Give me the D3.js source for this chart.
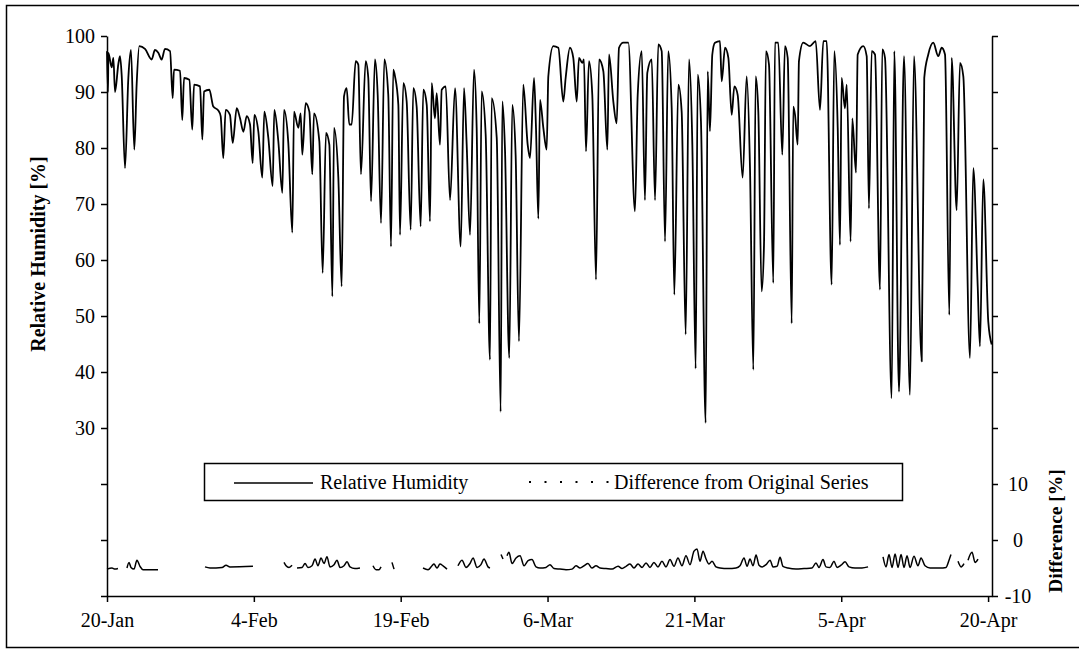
<!DOCTYPE html>
<html>
<head>
<meta charset="utf-8">
<script src="https://cdn.jsdelivr.net/npm/d3@7"></script>
<style>
  body { margin: 0; background: #fff; }
  svg { display: block; }
  text { font-family: "Liberation Serif", "Times New Roman", serif; fill: #000; }
</style>
</head>
<body>
<svg id="chart" width="1079" height="655"></svg>
<script>
// Time axis: days elapsed since 20-Jan
const xTickDays = [0, 15, 30, 45, 60, 75, 90];
const xTickLabels = ["20-Jan", "4-Feb", "19-Feb", "6-Mar", "21-Mar", "5-Apr", "20-Apr"];

// Left axis (relative humidity) and right axis (difference)
const rhTicks = [0, 10, 20, 30, 40, 50, 60, 70, 80, 90, 100];
const rhTickLabels = [30, 40, 50, 60, 70, 80, 90, 100];
const diffTicks = [-10, 0, 10, 20, 30, 40, 50, 60, 70, 80, 90];
const diffTickLabels = [-10, 0, 10];

// Relative humidity series: day offset and value [%]
const rhDay = [
  0.00, 0.10, 0.14, 0.48, 0.65, 0.82, 1.16, 1.33, 1.50, 1.84, 2.18, 2.45, 2.79, 3.03, 3.30, 3.88,
  4.56, 4.90, 5.24, 5.58, 5.92, 6.44, 6.71, 6.84, 7.46, 7.69, 7.87, 8.41, 8.71, 8.89, 9.50, 9.74,
  9.91, 10.45, 10.86, 11.37, 11.61, 11.88, 12.12, 12.56, 12.84, 13.25, 13.59, 13.93, 14.27, 14.61,
  14.88, 15.05, 15.46, 15.86, 16.07, 16.48, 16.92, 17.09, 17.50, 17.91, 18.08, 18.52, 18.93, 19.10,
  19.54, 19.78, 19.95, 20.29, 20.67, 20.97, 21.14, 21.69, 22.03, 22.37, 22.71, 23.02, 23.19, 23.63,
  23.97, 24.21, 24.48, 24.75, 24.99, 25.40, 25.67, 25.94, 26.42, 26.69, 26.97, 27.37, 27.65, 27.99,
  28.33, 28.73, 29.01, 29.24, 29.42, 29.76, 29.93, 30.27, 30.61, 31.02, 31.29, 31.63, 32.04, 32.31,
  32.66, 32.99, 33.17, 33.50, 33.68, 34.01, 34.19, 34.60, 35.04, 35.55, 36.13, 36.47, 36.74, 37.08,
  37.49, 37.76, 38.03, 38.27, 38.68, 39.12, 39.29, 39.81, 40.21, 40.38, 40.65, 41.09, 41.40, 41.74,
  42.08, 42.52, 42.97, 43.21, 43.62, 43.82, 44.06, 44.23, 44.57, 44.91, 45.08, 45.59, 46.10, 46.61,
  46.85, 47.29, 47.63, 47.98, 48.21, 48.55, 48.72, 48.93, 49.23, 49.57, 49.95, 50.26, 50.70, 51.11,
  51.28, 51.72, 52.06, 52.30, 52.74, 53.25, 53.93, 54.21, 54.62, 54.95, 55.19, 55.64, 55.98, 56.31,
  56.66, 57.00, 57.33, 57.68, 57.95, 58.36, 58.70, 59.11, 59.45, 59.79, 60.13, 60.34, 60.67, 61.15,
  61.36, 61.59, 61.83, 62.10, 62.61, 62.79, 63.13, 63.47, 63.81, 64.08, 64.42, 64.93, 65.34, 65.68,
  66.02, 66.26, 66.53, 66.87, 67.11, 67.31, 67.62, 68.06, 68.23, 68.57, 68.98, 69.25, 69.53, 69.94,
  70.10, 70.28, 70.55, 70.68, 71.12, 71.81, 72.39, 72.83, 73.17, 73.51, 74.02, 74.29, 74.64, 74.87,
  75.04, 75.38, 75.56, 75.96, 76.13, 76.51, 76.68, 77.25, 77.60, 77.83, 78.11, 78.45, 78.96, 79.19,
  79.47, 80.15, 80.42, 80.90, 81.41, 82.02, 82.43, 83.22, 83.48, 83.89, 84.40, 84.91, 85.26, 85.60,
  86.04, 86.28, 86.79, 87.13, 87.47, 88.15, 88.49, 88.94, 89.17, 89.51, 90.02, 90.37
];
const rhValue = [
  97.3, 90.0, 97.0, 94.4, 96.1, 90.0, 95.0, 96.4, 93.0, 76.4, 92.5, 97.5, 79.7, 91.4, 98.2, 97.7,
  95.8, 97.5, 97.0, 95.8, 97.7, 97.3, 88.9, 94.0, 93.8, 85.0, 92.5, 92.2, 83.3, 91.3, 91.0, 81.5,
  90.1, 90.4, 87.4, 86.7, 85.7, 78.2, 86.8, 85.9, 80.9, 87.1, 85.3, 82.9, 85.7, 84.2,
  77.3, 85.9, 82.9, 74.7, 86.5, 81.8, 73.2, 86.8, 81.2, 72.0, 86.8, 80.9, 64.9, 86.5,
  83.6, 86.2, 78.8, 88.0, 86.5, 75.3, 86.2, 81.2, 57.7, 82.7, 80.6, 53.5, 83.6, 74.7,
  55.3, 89.2, 90.7, 84.2, 84.2, 95.5, 94.9, 75.3, 95.5, 92.5, 70.5, 95.8, 89.5, 66.6,
  95.8, 89.5, 62.4, 94.0, 92.8, 87.7, 64.5, 91.6, 88.3, 65.4, 90.7, 87.4, 66.0, 90.4,
  87.7, 66.9, 91.6, 85.3, 89.8, 80.6, 90.4, 91.0, 70.7, 90.7, 62.4, 90.7, 80.6, 64.5,
  94.0, 83.6, 48.7, 90.1, 82.4, 42.2, 88.9, 81.8, 32.9, 88.3, 79.9, 42.5, 87.7, 78.8,
  45.5, 91.3, 80.6, 78.2, 92.5, 83.6, 67.4, 88.6, 83.6, 79.7, 92.8, 98.2, 97.9, 88.3,
  92.5, 97.9, 96.1, 88.3, 96.1, 95.2, 95.8, 79.4, 95.5, 89.5, 56.5, 95.8, 93.7, 79.7,
  96.7, 88.3, 84.4, 97.9, 98.8, 98.8, 68.7, 89.5, 97.3, 70.7, 93.4, 95.8, 70.7, 98.5,
  97.3, 63.3, 97.3, 87.2, 53.8, 91.3, 86.5, 46.7, 95.8, 80.6, 40.6, 93.1, 84.8, 30.9,
  93.7, 83.0, 96.7, 98.8, 99.1, 91.9, 97.9, 96.1, 85.9, 91.0, 89.5, 74.7, 92.8, 76.4,
  40.4, 92.8, 86.5, 54.4, 62.7, 97.3, 94.9, 55.9, 98.8, 98.8, 78.8, 98.2, 96.1, 48.7,
  87.4, 85.9, 80.6, 95.5, 98.8, 98.2, 99.1, 86.8, 99.1, 99.1, 55.6, 97.3, 83.6, 62.7,
  92.5, 87.1, 91.3, 63.3, 85.3, 75.6, 96.7, 98.2, 96.4, 69.2, 97.3, 96.7, 54.7, 97.6,
  96.1, 35.3, 97.3, 36.5, 96.4, 35.9, 96.4, 41.9, 92.5, 96.7, 98.8, 96.4, 97.9, 96.7,
  50.2, 96.1, 68.9, 95.2, 92.8, 42.5, 76.4, 55.3, 44.6, 74.4, 49.0, 44.9
];

// Difference from original series: day offset and value [%]; null marks missing data
const diffDay = [
  0.00, 0.51, 0.82, 1.12, null,
  2.04, 2.25, 2.45, 2.76, 3.06, 3.37, 3.68, 5.21, null,
  10.01, 10.52, 11.75, 12.16, 12.56, 14.91, null,
  18.08, 18.29, 18.59, 18.90, null,
  19.41, 19.92, 20.23, 20.53, 20.94, 21.25, 21.55, 21.86, 22.17, 22.47, 22.78, 23.19, 23.49, 23.80,
  24.21, 24.52, 24.82, 25.33, 25.84, null,
  27.17, 27.48, 27.78, 27.99, null,
  29.11, 29.32, null,
  32.28, 32.79, 33.20, 33.40, 33.71, 34.01, 34.32, 34.73, null,
  35.85, 36.26, 36.67, 37.08, 37.39, 37.80, 38.20, 38.51, 38.92, 39.12, null,
  40.25, 40.45, null,
  40.86, 41.06, 41.37, 41.78, 42.19, 42.60, 43.01, 43.41, 43.82, 44.23, 44.84, 45.25, 45.66, 46.27,
  46.89, 47.50, 47.91, 48.32, 48.73, 49.13, 49.54, 49.95, 50.36, 50.97, 51.59, 52.20, 52.61, 53.02,
  53.42, 53.83, 54.24, 54.65, 55.06, 55.47, 55.87, 56.28, 56.69, 57.10, 57.51, 57.92, 58.32, 58.73,
  59.14, 59.55, 59.96, 60.27, 60.57, 60.88, 61.19, 61.49, 61.80, 62.21, 62.62, 63.44, 64.25, 64.66,
  65.07, 65.38, 65.68, 65.99, 66.30, 66.60, 66.91, 67.32, 67.73, 68.03, 68.44, 68.75, 69.05, 69.56,
  70.38, 71.20, 72.01, 72.42, 72.73, 73.14, 73.44, 73.85, 74.26, 74.57, 74.98, 75.39, 75.79, 76.41,
  77.12, 77.74, null,
  79.27, 79.58, 79.88, 80.19, 80.50, 80.80, 81.11, 81.41, 81.72, 82.03, 82.43, 82.84, 83.15, 83.56,
  84.07, 85.09, 85.70, 86.01, 86.21, null,
  86.93, 87.24, 87.54, null,
  87.95, 88.36, 88.67, 88.97
];
const diffValue = [
  -5.2, -5.0, -5.2, -5.1, null,
  -5.0, -4.0, -4.9, -5.2, -3.6, -4.7, -5.3, -5.3, null,
  -4.8, -5.0, -4.9, -4.5, -4.8, -4.7, null,
  -4.0, -4.6, -4.9, -4.5, null,
  -5.0, -4.9, -4.2, -4.9, -4.6, -3.4, -4.6, -3.2, -4.2, -3.0, -4.8, -4.4, -3.6, -4.9,
  -4.6, -3.9, -4.8, -5.1, -5.0, null,
  -4.6, -5.3, -5.3, -4.8, null,
  -4.0, -5.2, null,
  -5.0, -5.3, -4.6, -4.3, -5.0, -4.3, -4.6, -5.2, null,
  -4.6, -3.6, -4.9, -4.2, -3.2, -4.9, -4.4, -3.4, -4.8, -5.0, null,
  -2.6, -3.4, null,
  -2.8, -2.2, -4.2, -3.2, -2.8, -4.6, -3.7, -3.5, -4.8, -5.0, -4.9, -4.4, -5.1, -5.2,
  -5.3, -5.2, -4.6, -5.0, -4.6, -4.2, -5.0, -4.6, -5.0, -5.1, -5.2, -4.7, -5.1, -4.7,
  -4.3, -5.0, -4.3, -4.9, -4.1, -4.9, -4.0, -4.8, -3.8, -4.8, -3.5, -4.7, -3.2, -4.6,
  -2.8, -4.4, -2.0, -1.6, -3.8, -2.0, -3.4, -4.3, -3.8, -4.8, -5.0, -5.1, -5.0, -4.6,
  -3.2, -4.7, -3.4, -4.6, -2.7, -4.5, -4.8, -4.4, -3.6, -4.8, -4.7, -3.1, -4.7, -5.0,
  -5.2, -5.1, -5.0, -4.1, -4.9, -3.5, -4.8, -4.9, -3.8, -4.9, -4.5, -3.9, -4.8, -5.0,
  -5.0, -4.8, null,
  -3.0, -4.8, -2.6, -4.9, -2.5, -4.9, -2.6, -4.9, -2.8, -4.9, -2.9, -4.6, -3.2, -4.6,
  -5.0, -5.0, -4.9, -3.6, -2.6, null,
  -3.8, -4.8, -4.2, null,
  -3.6, -2.2, -4.0, -3.4
];

const svg = d3.select("#chart");
const plot = { left: 107, right: 992, top: 36, bottom: 596 };
const serif = '"Liberation Serif", "Times New Roman", serif';

const x = d3.scaleLinear().domain([0, 90.4]).range([plot.left, plot.right]);
const yRH = d3.scaleLinear().domain([0, 100]).range([plot.bottom, plot.top]);
const yDiff = d3.scaleLinear().domain([-10, 90]).range([plot.bottom, plot.top]);

// Outer frame
svg.append("rect")
  .attr("x", 6.5).attr("y", 5.5)
  .attr("width", 1100).attr("height", 642)
  .attr("fill", "none").attr("stroke", "#000").attr("stroke-width", 1.5);

// Axes
const fontSize = 20;
const styleAxis = g => {
  g.attr("font-family", serif);
  g.selectAll("path, line").attr("stroke", "#000").attr("stroke-width", 1.5);
  g.selectAll("text").attr("font-size", fontSize).style("font-family", serif).attr("fill", "#000");
};

svg.append("g")
  .attr("transform", `translate(0,${plot.bottom})`)
  .call(d3.axisBottom(x)
    .tickValues(xTickDays)
    .tickFormat((d, i) => xTickLabels[i])
    .tickSize(6).tickSizeOuter(0).tickPadding(11))
  .call(styleAxis);

svg.append("g")
  .attr("transform", `translate(${plot.left},0)`)
  .call(d3.axisLeft(yRH)
    .tickValues(rhTicks)
    .tickFormat(d => rhTickLabels.includes(d) ? String(d) : "")
    .tickSize(6).tickSizeOuter(0).tickPadding(6))
  .call(styleAxis);

const rightAxis = svg.append("g")
  .attr("transform", `translate(${plot.right},0)`)
  .call(d3.axisRight(yDiff)
    .tickValues(diffTicks)
    .tickFormat(d => diffTickLabels.includes(d) ? String(d) : "")
    .tickSize(6).tickSizeOuter(0).tickPadding(8))
  .call(styleAxis);
rightAxis.selectAll(".tick text").attr("text-anchor", "middle").attr("x", 26);

// Axis titles
svg.append("text")
  .attr("transform", "translate(38,254) rotate(-90)")
  .attr("text-anchor", "middle").attr("dominant-baseline", "central")
  .attr("font-size", 20).attr("font-weight", "bold").style("font-family", serif)
  .text("Relative Humidity [%]");

svg.append("text")
  .attr("transform", "translate(1055,531) rotate(-90)")
  .attr("text-anchor", "middle").attr("dominant-baseline", "central")
  .attr("font-size", 19.5).attr("font-weight", "bold").style("font-family", serif)
  .text("Difference [%]");

// Series
const rhData = rhDay.map((d, i) => ({ day: d, value: rhValue[i] }));
const diffData = diffDay.map((d, i) => ({ day: d, value: diffValue[i] }));

svg.append("path")
  .datum(rhData)
  .attr("fill", "none").attr("stroke", "#000").attr("stroke-width", 1.8)
  .attr("stroke-linejoin", "round")
  .attr("d", d3.line().curve(d3.curveMonotoneX).x(d => x(d.day)).y(d => yRH(d.value)));

svg.append("path")
  .datum(diffData)
  .attr("fill", "none").attr("stroke", "#000").attr("stroke-width", 1.5)
  .attr("stroke-linejoin", "round")
  .attr("d", d3.line()
    .defined(d => d.day !== null && d.value !== null)
    .curve(d3.curveMonotoneX)
    .x(d => x(d.day)).y(d => yDiff(d.value)));

// Legend
const legend = svg.append("g");
legend.append("rect")
  .attr("x", 204.5).attr("y", 463.5).attr("width", 698).attr("height", 37)
  .attr("fill", "#fff").attr("stroke", "#000").attr("stroke-width", 1.5);
legend.append("line")
  .attr("x1", 234).attr("x2", 313).attr("y1", 483).attr("y2", 483)
  .attr("stroke", "#000").attr("stroke-width", 1.5);
legend.append("text")
  .attr("x", 320).attr("y", 489).attr("font-size", fontSize).style("font-family", serif)
  .text("Relative Humidity");
legend.append("line")
  .attr("x1", 529).attr("x2", 612).attr("y1", 482).attr("y2", 482)
  .attr("stroke", "#000").attr("stroke-width", 1.8)
  .attr("stroke-dasharray", "2,13.5");
legend.append("text")
  .attr("x", 614).attr("y", 489).attr("font-size", fontSize).style("font-family", serif)
  .text("Difference from Original Series");
</script>
</body>
</html>
